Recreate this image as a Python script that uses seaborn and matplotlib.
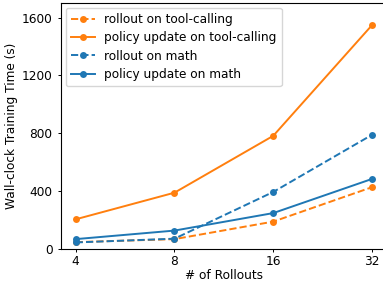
import numpy as np
import pandas as pd
import matplotlib
matplotlib.use("Agg")
import matplotlib.pyplot as plt
import seaborn as sns

rollouts = [4, 8, 16, 32]
rollout_tool = [48, 69, 190, 428]
update_tool = [206, 390, 783, 1548]
rollout_math = [46, 72, 395, 790]
update_math = [69, 128, 249, 485]

series = [
    ("rollout on tool-calling", rollout_tool, "#ff7f0e", "--"),
    ("policy update on tool-calling", update_tool, "#ff7f0e", "-"),
    ("rollout on math", rollout_math, "#1f77b4", "--"),
    ("policy update on math", update_math, "#1f77b4", "-"),
]

plt.rcParams["font.family"] = ["DejaVu Sans"]
fs = 8.7

fig = plt.figure(figsize=(3.83, 2.86), dpi=100)
ax = fig.add_axes([0.159, 0.129, 0.851, 0.860])

for name, vals, color, ls in series:
    df = pd.DataFrame({"x": rollouts, "y": vals})
    sns.lineplot(data=df, x="x", y="y", ax=ax, color=color, linestyle=ls,
                 marker="o", markersize=5, markeredgewidth=0, linewidth=1.4,
                 label=name)

ax.set_xscale("log", base=2)
ax.set_xticks(rollouts)
ax.set_xticklabels([str(r) for r in rollouts])
ax.minorticks_off()
ax.set_ylim(0, 1700)
ax.set_yticks([0, 400, 800, 1200, 1600])
ax.tick_params(labelsize=fs, length=2.5, width=0.7)
ax.tick_params(axis="x", pad=1.5)
for s in ax.spines.values():
    s.set_linewidth(0.8)
ax.set_xlabel("# of Rollouts", fontsize=fs, labelpad=1)
ax.set_ylabel("Wall-clock Training Time (s)", fontsize=fs, labelpad=3)
ax.legend(loc="upper left", fontsize=fs, handlelength=2.0, borderaxespad=0.4,
          labelspacing=0.45, frameon=True)

fig.savefig("out.png", dpi=100)
